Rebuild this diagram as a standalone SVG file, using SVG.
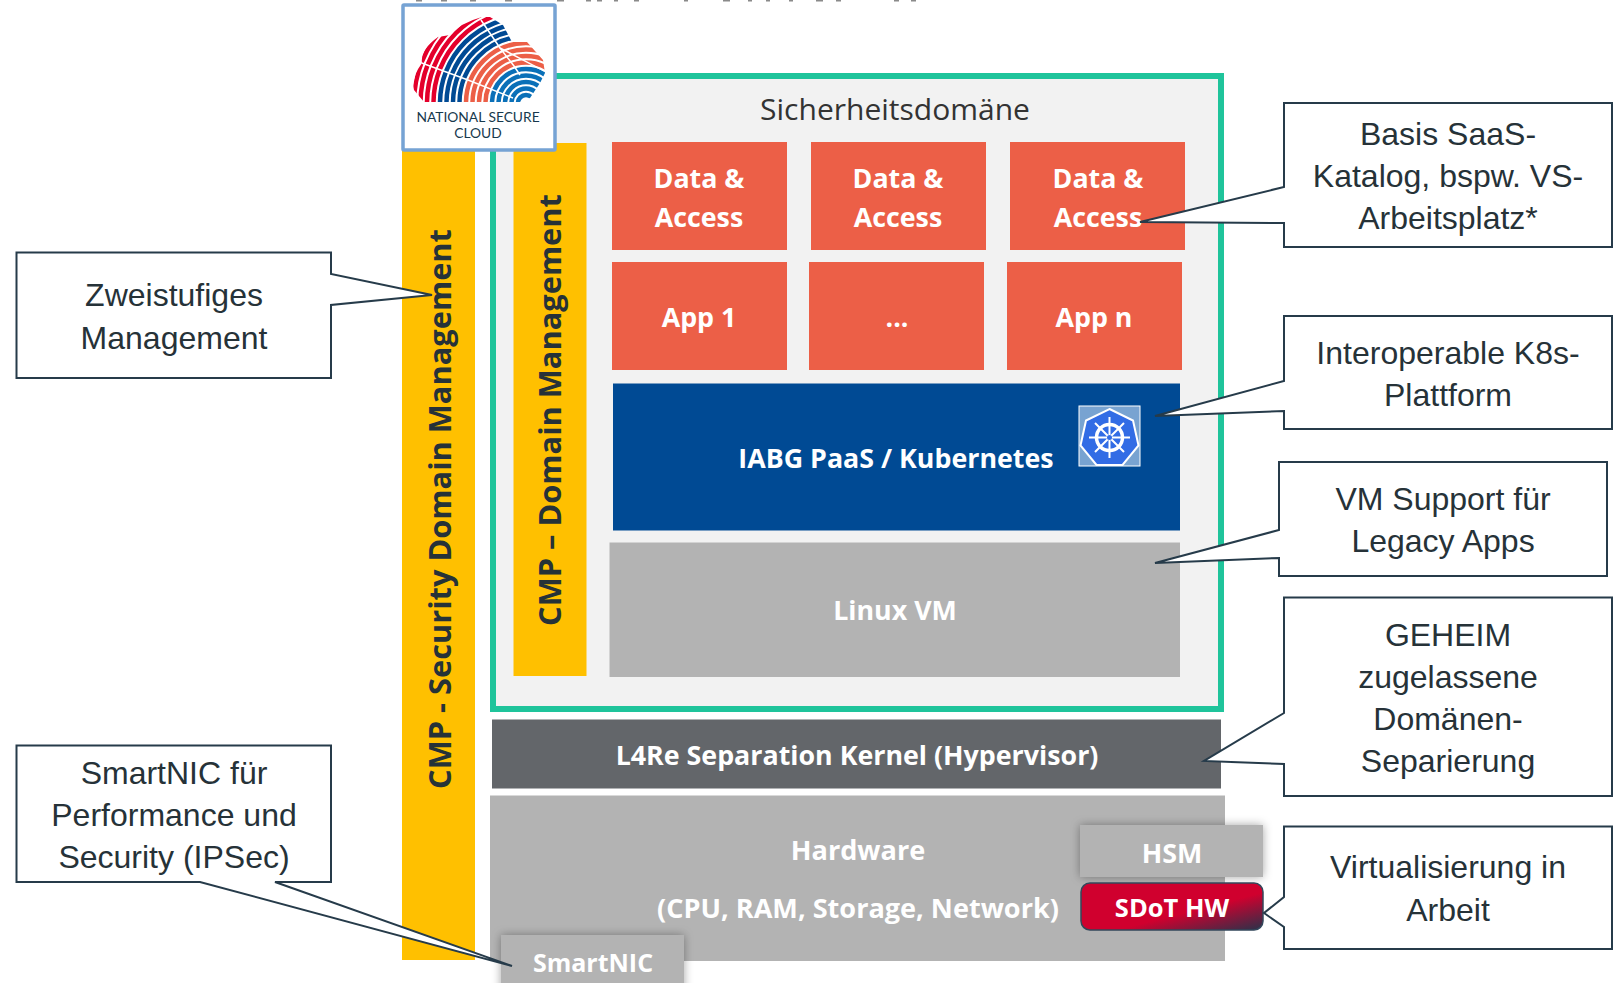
<svg xmlns="http://www.w3.org/2000/svg" width="1613" height="983" viewBox="0 0 1613 983">
<defs>
<style>
text{font-family:"Open Sans","Noto Sans",sans-serif;font-weight:700;text-anchor:middle}
.w{fill:#fff;font-size:26.800px}
.k{fill:#263238;font-size:30.800px}
.c{fill:#fff;stroke:#263b4a;stroke-width:2}
.t{font-family:"Liberation Sans",Arial,sans-serif;font-weight:400;font-size:32px;fill:#263238}
.o{fill:#ec5f47}
.a{fill:#b3b3b3}
.y{fill:#ffc000}
.r{fill:none;stroke-width:4.500}
</style>
<linearGradient id="sd" x1="0" y1="0" x2="1" y2="1"><stop offset="0.6" stop-color="#d0002e"/><stop offset="1" stop-color="#28324a"/></linearGradient>
<filter id="sh" x="-10%" y="-20%" width="120%" height="140%"><feDropShadow dx="0" dy="0" stdDeviation="5" flood-color="#000" flood-opacity=".35"/></filter>
<clipPath id="cl"><path d="M424 102L414 90Q411 78 422 63Q420 50 438 37L450 35Q460 23 482 17H490L503 25L512 42H527L543 60L545 73L540 83L530 98L520 102Z"/></clipPath>
</defs>
<rect width="1613" height="983" fill="#fff"/>
<path id="clipped-heading" d="M416 0h6M441 0h6M470 0h6M505 0h7M557 0h7M586 0h5M597 0h5M614 0h4M634 0h5M684 0h4M723 0h7M748 0h4M766 0h4M789 0h4M816 0h7M836 0h5M894 0h5M911 0h5" stroke="#8a8a8a" stroke-width="3" fill="none"/>
<g id="sec-domain">
<rect x="493" y="76" width="728" height="633" fill="#f2f2f2" stroke="#1fc49b" stroke-width="6"/>
<text x="895" y="120" style="font-weight:400;font-size:30px;fill:#333">Sicherheitsdomäne</text>
</g>
<g id="cmp-sec"><rect class="y" x="402" y="140" width="73" height="820"/><text class="k" transform="translate(451,509) rotate(-90)">CMP - Security Domain Management</text></g>
<g id="cmp-dom"><rect class="y" x="513.500" y="143" width="73" height="533"/><text class="k" transform="translate(561,410) rotate(-90)">CMP – Domain Management</text></g>
<g id="d1"><rect class="o" x="612" y="142" width="175" height="108"/><text class="w"><tspan x="699" y="188">Data &amp;</tspan><tspan x="699" y="227">Access</tspan></text></g>
<g id="d2"><rect class="o" x="811" y="142" width="175" height="108"/><text class="w"><tspan x="898" y="188">Data &amp;</tspan><tspan x="898" y="227">Access</tspan></text></g>
<g id="d3"><rect class="o" x="1010" y="142" width="175" height="108"/><text class="w"><tspan x="1098" y="188">Data &amp;</tspan><tspan x="1098" y="227">Access</tspan></text></g>
<g id="a1"><rect class="o" x="612" y="262" width="175" height="108"/><text class="w" x="699" y="327">App 1</text></g>
<g id="a2"><rect class="o" x="809" y="262" width="175" height="108"/><text class="w" x="897" y="327">...</text></g>
<g id="a3"><rect class="o" x="1007" y="262" width="175" height="108"/><text class="w" x="1094" y="327">App n</text></g>
<g id="paas"><rect x="613" y="383.500" width="567" height="147" fill="#004a94"/><text class="w" x="896" y="467.500">IABG PaaS / Kubernetes</text>
<rect x="1079" y="406" width="61" height="60" fill="#78a3d1" stroke="#fff"/>
<path d="M1109.500 409 L1133 420.500 L1138.500 445.500 L1122.500 465 L1096.500 465 L1080.500 445.500 L1086 420.500Z" fill="#326ce5" stroke="#fff" stroke-width="2"/>
<g fill="none" stroke="#fff"><circle cx="1109.500" cy="437.500" r="13" stroke-width="3.500"/><path d="M1109.500 417V458M1089 437.500H1130M1095 423L1124 452M1124 423L1095 452" stroke-width="2"/></g>
<circle cx="1109.500" cy="437.500" r="2.500" fill="#326ce5"/>
</g>
<g id="vm"><rect class="a" x="609.500" y="542.500" width="570.500" height="134.500"/><text class="w" x="895" y="620">Linux VM</text></g>
<g id="l4re"><rect x="492" y="719.500" width="729" height="69" fill="#63666a"/><text class="w" x="857" y="765">L4Re Separation Kernel (Hypervisor)</text></g>
<g id="hw"><rect class="a" x="490" y="795.500" width="735" height="165.500"/><text class="w" style="font-size:27.100px"><tspan x="858" y="859.500">Hardware</tspan><tspan x="858" y="917.500">(CPU, RAM, Storage, Network)</tspan></text></g>
<g id="hsm"><rect class="a" x="1080" y="825" width="183" height="52" filter="url(#sh)"/><text class="w" x="1172" y="862.500">HSM</text></g>
<g id="sdot"><rect x="1081" y="883" width="182" height="47" rx="9" fill="url(#sd)" stroke="#33475b" stroke-width="1.500"/><text class="w" x="1172" y="917" style="font-size:25.500px">SDoT HW</text></g>
<g id="nic"><rect class="a" x="501" y="935" width="183" height="60" filter="url(#sh)"/><text class="w" x="593" y="972" style="font-size:25px">SmartNIC</text></g>
<g id="connectors">
<path class="c" d="M16.500 252.500H331V274L432 295L331 305V378H16.500Z"/>
<path class="c" d="M16.500 745.500H331V882H275L512 966L200 882H16.500Z"/>
<path class="c" d="M1284 103H1612V247H1284V223L1140 222L1284 187Z"/>
<path class="c" d="M1284 316H1612V429H1284V411L1155 416L1284 381Z"/>
<path class="c" d="M1279 462H1607V576H1279V558L1155 563L1279 530Z"/>
<path class="c" d="M1284 597.500H1612V796H1284V764L1204 761L1284 713Z"/>
<path class="c" d="M1284 826.500H1612V949H1284V927L1264 913L1284 897Z"/>
</g>
<g id="n1"><text class="t"><tspan x="174" y="306">Zweistufiges</tspan><tspan x="174" y="349">Management</tspan></text></g>
<g id="n2"><text class="t"><tspan x="174" y="784">SmartNIC für</tspan><tspan x="174" y="826">Performance und</tspan><tspan x="174" y="868">Security (IPSec)</tspan></text></g>
<g id="n3"><text class="t"><tspan x="1448" y="145">Basis SaaS-</tspan><tspan x="1448" y="187">Katalog, bspw. VS-</tspan><tspan x="1448" y="229">Arbeitsplatz*</tspan></text></g>
<g id="n4"><text class="t"><tspan x="1448" y="364">Interoperable K8s-</tspan><tspan x="1448" y="406">Plattform</tspan></text></g>
<g id="n5"><text class="t"><tspan x="1443" y="510">VM Support für</tspan><tspan x="1443" y="552">Legacy Apps</tspan></text></g>
<g id="n6"><text class="t"><tspan x="1448" y="646">GEHEIM</tspan><tspan x="1448" y="688">zugelassene</tspan><tspan x="1448" y="730">Domänen-</tspan><tspan x="1448" y="772">Separierung</tspan></text></g>
<g id="n7"><text class="t"><tspan x="1448" y="878">Virtualisierung in</tspan><tspan x="1448" y="921">Arbeit</tspan></text></g>
<g id="logo">
<rect x="403" y="5" width="152" height="145" rx="1" fill="#fff" stroke="#76a3d4" stroke-width="3.500"/>
<g clip-path="url(#cl)">
<g class="r" stroke="#0a70b8"><circle cx="526" cy="103" r="8"/><circle cx="526" cy="103" r="14.500"/><circle cx="526" cy="103" r="21"/><circle cx="526" cy="103" r="27.500"/><circle cx="526" cy="103" r="34"/></g>
<g class="r" stroke="#ec5f47"><circle cx="526" cy="103" r="40.500"/><circle cx="526" cy="103" r="47"/><circle cx="526" cy="103" r="53.500"/><circle cx="526" cy="103" r="60"/></g>
<g class="r" stroke="#004a94"><circle cx="526" cy="103" r="66.500"/><circle cx="526" cy="103" r="73"/><circle cx="526" cy="103" r="79.500"/><circle cx="526" cy="103" r="86"/></g>
<g class="r" stroke="#e4002b"><circle cx="526" cy="103" r="92.500"/><circle cx="526" cy="103" r="99"/><circle cx="526" cy="103" r="105.500"/><circle cx="526" cy="103" r="112"/></g>
<path d="M481 20L500 48L514 66L520 75M419 62L468 80L513 98M500 48L546 72" fill="none" stroke="#fff" stroke-width="1.500"/>
</g>
<text x="478" y="122" style="font-family:'Lato','Open Sans',sans-serif;font-weight:400;font-size:13.800px;fill:#17394d">NATIONAL SECURE</text>
<text x="478" y="138" style="font-family:'Lato','Open Sans',sans-serif;font-weight:400;font-size:13.800px;fill:#17394d">CLOUD</text>
</g>
</svg>
